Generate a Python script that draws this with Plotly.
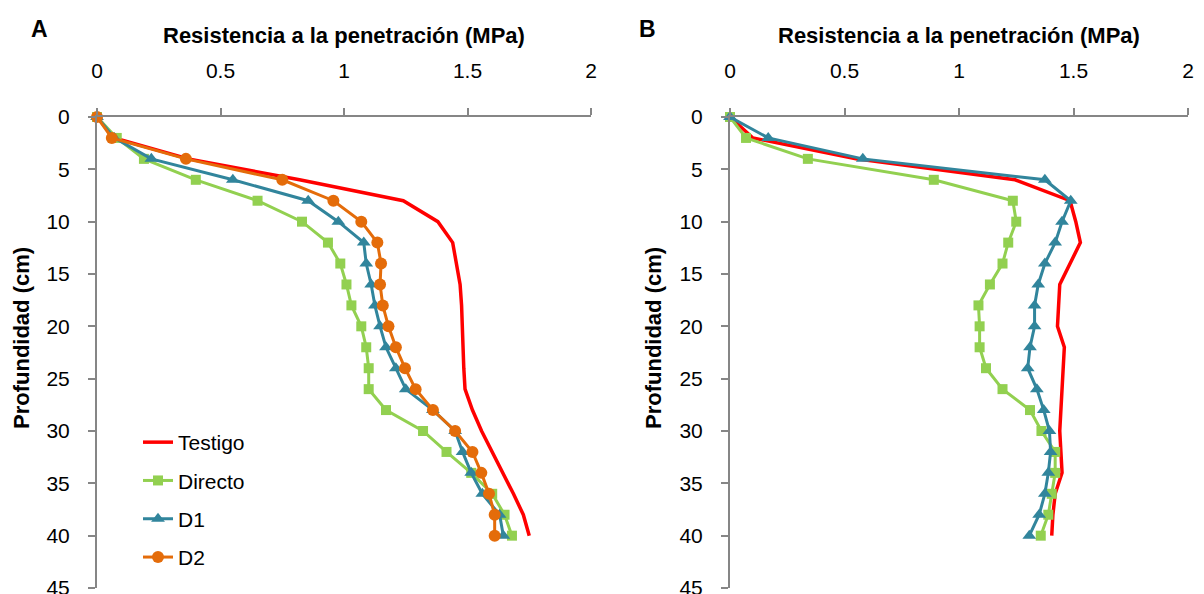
import plotly.graph_objects as go

# ---- data ----
depth = [0, 2, 4, 6, 8, 10, 12, 14, 16, 18, 20, 22, 24, 26, 28, 30, 32, 34, 36, 38, 40]

A_testigo = [0, 0.07, 0.37, 0.82, 1.24, 1.38, 1.44, 1.455, 1.47, 1.476, 1.478, 1.48, 1.485, 1.49, 1.52, 1.557, 1.60, 1.645, 1.686, 1.726, 1.75]
A_directo = [0, 0.08, 0.19, 0.40, 0.65, 0.83, 0.935, 0.985, 1.01, 1.03, 1.07, 1.09, 1.10, 1.10, 1.17, 1.32, 1.415, 1.515, 1.60, 1.65, 1.68]
A_d1 = [0, 0.07, 0.22, 0.55, 0.855, 0.977, 1.08, 1.09, 1.11, 1.125, 1.146, 1.17, 1.21, 1.25, 1.36, 1.45, 1.48, 1.515, 1.56, 1.63, 1.645]
A_d2 = [0, 0.06, 0.36, 0.75, 0.957, 1.07, 1.135, 1.15, 1.146, 1.157, 1.18, 1.21, 1.247, 1.29, 1.36, 1.45, 1.52, 1.556, 1.587, 1.61, 1.61]

B_testigo = [0, 0.10, 0.55, 1.245, 1.485, 1.51, 1.53, 1.485, 1.44, 1.435, 1.43, 1.46, 1.455, 1.45, 1.445, 1.44, 1.445, 1.45, 1.42, 1.41, 1.405]
B_directo = [0, 0.07, 0.34, 0.89, 1.235, 1.25, 1.215, 1.19, 1.135, 1.085, 1.09, 1.09, 1.118, 1.19, 1.31, 1.36, 1.42, 1.42, 1.405, 1.39, 1.357]
B_d1 = [0, 0.167, 0.58, 1.375, 1.488, 1.45, 1.42, 1.375, 1.346, 1.33, 1.33, 1.31, 1.30, 1.34, 1.37, 1.395, 1.40, 1.39, 1.375, 1.35, 1.307]

series_names = ["Testigo", "Directo", "D1", "D2"]
x_ticks = [0, 0.5, 1, 1.5, 2]
x_tick_labels = ["0", "0.5", "1", "1.5", "2"]
y_ticks = [0, 5, 10, 15, 20, 25, 30, 35, 40, 45]
x_title = "Resistencia a la penetración (MPa)"
y_title = "Profundidad (cm)"
panel_labels = ["A", "B"]

# ---- styles ----
FONT = "Liberation Sans, Arial, sans-serif"
RED = "#FF0000"
GREEN = "#92D050"
TEAL = "#31859C"
ORANGE = "#E46C0A"
AXIS = "#868686"

# page body has an 8px margin; figure sized to the visible area
OFF = 8
W, H = 1204 - OFF, 594 - OFF


def px_x(p):
    return (p - OFF) / W


def px_y(p):
    return 1 - (p - OFF) / H


fig = go.Figure()


def add(x, name, color, symbol, size, xa, ya, show, group, lw=3):
    mode = "lines" if symbol is None else "lines+markers"
    tr = dict(
        x=x, y=depth, name=name, mode=mode,
        line=dict(color=color, width=lw),
        xaxis=xa, yaxis=ya, showlegend=show, legendgroup=group,
        cliponaxis=False,
    )
    if symbol is not None:
        tr["marker"] = dict(symbol=symbol, size=size, color=color)
    fig.add_trace(go.Scatter(**tr))


# Panel A
add(A_testigo, series_names[0], RED, None, 0, "x", "y", True, "g1", lw=3.5)
add(A_directo, series_names[1], GREEN, "square", 10, "x", "y", True, "g2")
add(A_d1, series_names[2], TEAL, "triangle-up", 12, "x", "y", True, "g3")
add(A_d2, series_names[3], ORANGE, "circle", 12, "x", "y", True, "g4")
# Panel B
add(B_testigo, series_names[0], RED, None, 0, "x2", "y2", False, "g1", lw=3.5)
add(B_directo, series_names[1], GREEN, "square", 10, "x2", "y2", False, "g2")
add(B_d1, series_names[2], TEAL, "triangle-up", 12, "x2", "y2", False, "g3")

xcommon = dict(
    range=[0, 2], side="top", tickmode="array", tickvals=x_ticks, ticktext=x_tick_labels,
    showline=True, linecolor=AXIS, linewidth=2, ticks="outside", ticklen=7,
    tickcolor=AXIS, tickwidth=1.5, showgrid=False, zeroline=False, automargin=False,
    tickfont=dict(family=FONT, size=21, color="#000000"), ticklabelstandoff=22,
    ticklabeloverflow="allow",
)
ycommon = dict(
    range=[45, 0], tickmode="array", tickvals=y_ticks,
    showline=True, linecolor=AXIS, linewidth=2, ticks="outside", ticklen=7,
    tickcolor=AXIS, tickwidth=1.5, showgrid=False, zeroline=False, automargin=False,
    tickfont=dict(family=FONT, size=21, color="#000000"), ticklabelstandoff=14,
    ticklabeloverflow="allow",
)

ydom = [px_y(588), px_y(117)]
fig.update_layout(
    width=W, height=H,
    margin=dict(l=0, r=0, t=0, b=0, autoexpand=False),
    paper_bgcolor="white", plot_bgcolor="white",
    font=dict(family=FONT, size=21, color="#000000"),
    xaxis=dict(domain=[px_x(97), px_x(591)], anchor="y", **xcommon),
    yaxis=dict(domain=ydom, anchor="x", **ycommon),
    xaxis2=dict(domain=[px_x(730), px_x(1188)], anchor="y2", **xcommon),
    yaxis2=dict(domain=ydom, anchor="x2", **ycommon),
    legend=dict(
        x=px_x(138), y=px_y(422), xanchor="left", yanchor="top",
        font=dict(family=FONT, size=21, color="#000000"),
        traceorder="grouped", tracegroupgap=8, bgcolor="rgba(0,0,0,0)",
    ),
    showlegend=True,
)

annotations = []
for cx in [(97 + 591) / 2, (730 + 1188) / 2]:
    annotations.append(dict(
        x=px_x(cx), y=px_y(35), xref="paper", yref="paper", text="<b>%s</b>" % x_title,
        showarrow=False, xanchor="center", yanchor="middle",
        font=dict(family=FONT, size=22, color="#000000"),
    ))
for cx in [21, 653]:
    annotations.append(dict(
        x=px_x(cx), y=px_y(338), xref="paper", yref="paper", text="<b>%s</b>" % y_title,
        showarrow=False, xanchor="center", yanchor="middle", textangle=-90,
        font=dict(family=FONT, size=22, color="#000000"),
    ))
for cx, lbl in [(39, panel_labels[0]), (647, panel_labels[1])]:
    annotations.append(dict(
        x=px_x(cx), y=px_y(29), xref="paper", yref="paper", text="<b>%s</b>" % lbl,
        showarrow=False, xanchor="center", yanchor="middle",
        font=dict(family=FONT, size=23, color="#000000"),
    ))
fig.update_layout(annotations=annotations)

fig.write_html("out.html")
